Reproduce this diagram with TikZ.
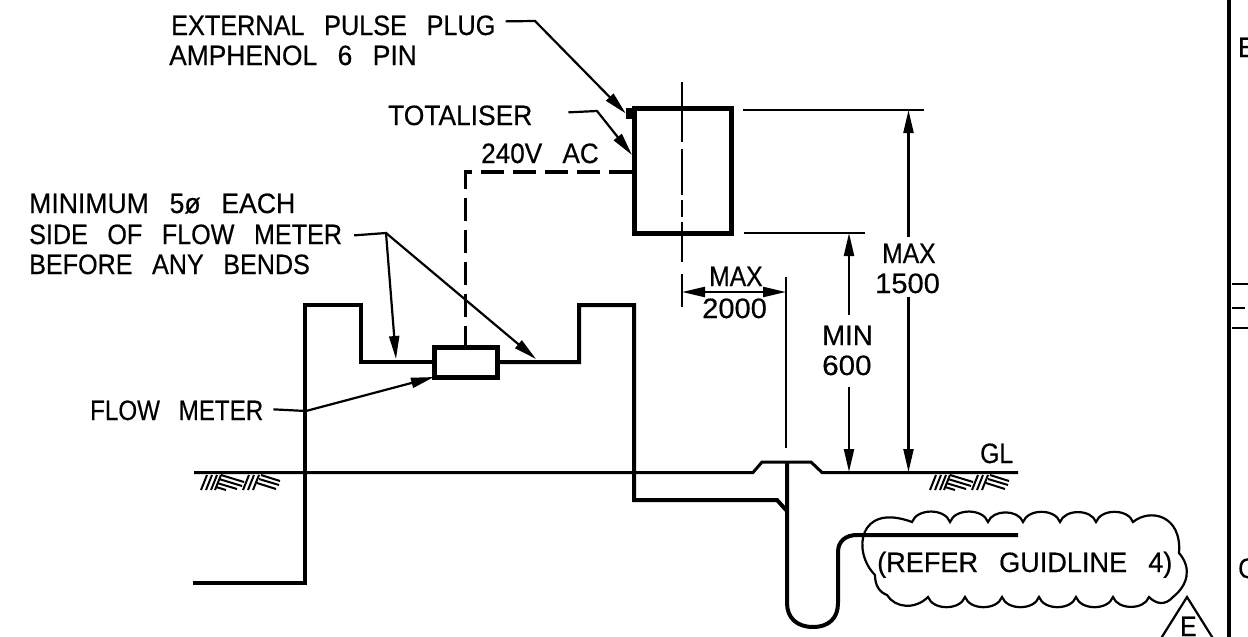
\documentclass[tikz,border=0pt]{standalone}
\usepackage{amsmath}
\usepackage{fontspec}
\setmainfont{Liberation Sans}[FakeStretch=0.88,WordSpace=2.8,FakeBold=0.4]
\usetikzlibrary{arrows.meta}
\newcommand{\widen}[2]{\scalebox{#1}[1]{#2}}
\tikzset{
  pipeline/.style={line width=4pt,line join=miter},
  thinline/.style={line width=2.2pt},
  leader/.style={line width=2.2pt,-{Triangle[length=23pt,width=10pt]}},
  dimline/.style={line width=2.2pt,{Triangle[length=23pt,width=10pt]}-{Triangle[length=23pt,width=10pt]}},
  dimend/.style={line width=2.2pt,-{Triangle[length=23pt,width=10pt]}},
  label/.style={anchor=base west,font=\fontsize{28}{30}\selectfont},
  unit/.style={draw,line width=5pt,outer sep=0pt},
  ground/.pic={
    \foreach \hx in {0,5,10,14,42,47,52} {\draw [line width=2pt] (\hx,-17) -- (\hx+6,-2);}
    \draw [line width=2pt] (20,-2) -- (43,-9);
    \draw [line width=2pt] (18,-6) -- (41,-13);
    \draw [line width=2pt] (16,-10) -- (36,-16);
    \draw [line width=2pt] (15,-14) -- (25,-17);
    \draw [line width=2pt] (60,-2) -- (79,-8);
    \draw [line width=2pt] (58,-6) -- (78,-12);
    \draw [line width=2pt] (56,-10) -- (75,-16);
  }
}
\begin{document}
\begin{tikzpicture}[x=1pt,y=1pt]
\tikzstyle{every node}+=[inner sep=0pt]
\clip (0,0) rectangle (1248,-637);
\fill [white] (0,0) rectangle (1248,-637);
\node [label] (plugtext) at (171,-35) {\widen{1.025}{EXTERNAL PULSE PLUG}};
\node [label] (pintext) at (169,-65) {\widen{1.07}{AMPHENOL 6 PIN}};
\node [label] (totaltext) at (388,-125) {\widen{1.07}{TOTALISER}};
\node [label] (actext) at (481,-163) {\widen{1.06}{240V AC}};
\node [label] (mintext) at (29,-213) {\widen{1.08}{MINIMUM 5ø EACH}};
\node [label] (sidetext) at (29,-244) {\widen{1.02}{SIDE OF FLOW METER}};
\node [label] (beforetext) at (29,-274) {\widen{1.02}{BEFORE ANY BENDS}};
\node [label] (metertext) at (90,-420) {\widen{0.98}{FLOW METER}};
\node [label] (maxa) at (882,-263) {MAX};
\node [label] (maxb) at (875,-293) {\widen{1.18}{1500}};
\node [label] (minc) at (822,-345) {\widen{1.12}{MIN}};
\node [label] (mind) at (822,-375) {\widen{1.2}{600}};
\node [label] (maxe) at (709,-286) {MAX};
\node [label] (maxf) at (702,-318) {\widen{1.18}{2000}};
\node [label] (gltext) at (980,-463) {GL};
\node [label] (refertext) at (877,-572) {\widen{1.1}{(REFER GUIDLINE 4)}};
\node [label] (edgee) at (1238,-57) {E};
\node [label] (edgec) at (1238,-578) {C};
\node [label] (revtext) at (1180,-636) {E};
\node [unit,minimum width=97pt,minimum height=125pt] (totaliser) at (682.5,-170.5) {};
\node [unit,minimum width=63pt,minimum height=30pt] (meter) at (465.5,-362) {};
\node [fill=black,minimum width=8pt,minimum height=11pt] (plug) at (630,-113.5) {};
\coordinate (plugelbow) at (535,-21);
\coordinate (totalelbow) at (597,-111);
\coordinate (totaltip) at (632,-155);
\coordinate (sideelbow) at (386,-233);
\coordinate (sidetipa) at (396,-359);
\coordinate (sidetipb) at (536,-359);
\coordinate (acfeed) at (465.5,-172);
\coordinate (acbox) at (632,-172);
\coordinate (meterelbow) at (306,-411);
\draw [leader] ([xshift=10pt,yshift=4pt]plugtext.east) -- (plugelbow) -- (plug.west);
\draw [leader] ([xshift=36pt,yshift=3pt]totaltext.east) -- (totalelbow) -- (totaltip);
\draw [leader] ([xshift=12pt,yshift=-1pt]sidetext.east) -- (sideelbow) -- (sidetipa);
\draw [leader] (sideelbow) -- (sidetipb);
\draw [leader] ([xshift=10pt,yshift=1pt]metertext.east) -- (meterelbow) -- (meter.south west);
\draw [line width=3.6pt,dash pattern=on 23pt off 9pt] (acbox) -- (acfeed) -- (meter.north);
\draw [pipeline] (193,-583) -- (304.5,-583) -- (304.5,-305) -- (361,-305) -- (361,-362) -- (meter.west);
\draw [pipeline] (meter.east) -- (579,-362) -- (579,-305) -- (634,-305) -- (634,-500) -- (777,-500) -- (787,-511);
\draw [pipeline] (787,-462) -- (787,-603) .. controls (787,-618) and (797,-627) .. (813,-627) .. controls (829,-627) and (838,-618) .. (838,-603) -- (838,-552) .. controls (838,-541) and (846,-535) .. (857,-535) -- (1018,-535);
\draw [line width=3pt] (194,-472.5) -- (753,-472.5) -- (762,-462) -- (811,-462) -- (822,-472.5) -- (1018,-472.5);
\pic at (201,-473) {ground};
\pic at (930,-473) {ground};
\draw [thinline] (682,-82) -- (682,-142);
\draw [thinline] (682,-149) -- (682,-195);
\draw [thinline] (682,-200) -- (682,-217);
\draw [thinline] (682,-222) -- (682,-262);
\draw [thinline] (682,-274) -- (682,-307);
\draw [thinline] (786,-277) -- (786,-448);
\draw [thinline] (743,-110) -- (924,-110);
\draw [thinline] (744,-233) -- (865,-233);
\coordinate (topmark) at (908.5,-110);
\coordinate (lowmark) at (849,-233);
\coordinate (glmarka) at (908.5,-472);
\coordinate (glmarkb) at (849,-472);
\draw [dimend] (908.5,-237) -- (topmark);
\draw [dimend] (908.5,-297) -- (glmarka);
\draw [dimend] (849,-315) -- (lowmark);
\draw [dimend] (849,-387) -- (glmarkb);
\draw [dimline] (682,-292) -- (786,-292);
\draw [line width=2.2pt] (875,-575) .. controls (852,-552) and (858,-502) .. (912,-522)
  \foreach \cx in {950,988,1023,1060,1096,1133} {to [bend left=70] (\cx,-522)}
  .. controls (1150,-508) and (1182,-515) .. (1179,-553)
  .. controls (1192,-568) and (1188,-585) .. (1173,-597)
  .. controls (1165,-606) and (1156,-604) .. (1149,-597)
  \foreach \cx in {1113,1076,1039,1002,965,928} {to [bend left=70] (\cx,-597)}
  .. controls (915,-610) and (895,-608) .. (887,-595)
  .. controls (879,-592) and (875,-585) .. (875,-575);
\coordinate (revapex) at (1187,-597);
\coordinate (revleft) at (1160,-640);
\coordinate (revright) at (1214,-640);
\draw [thinline] (revleft) -- (revapex) -- (revright);
\draw [line width=4.6pt] (1229,0) -- (1229,-637);
\draw [thinline] (1232,-284) -- (1248,-284);
\draw [thinline] (1232,-308) -- (1245,-308);
\draw [thinline] (1232,-328) -- (1248,-328);
\end{tikzpicture}
\end{document}
